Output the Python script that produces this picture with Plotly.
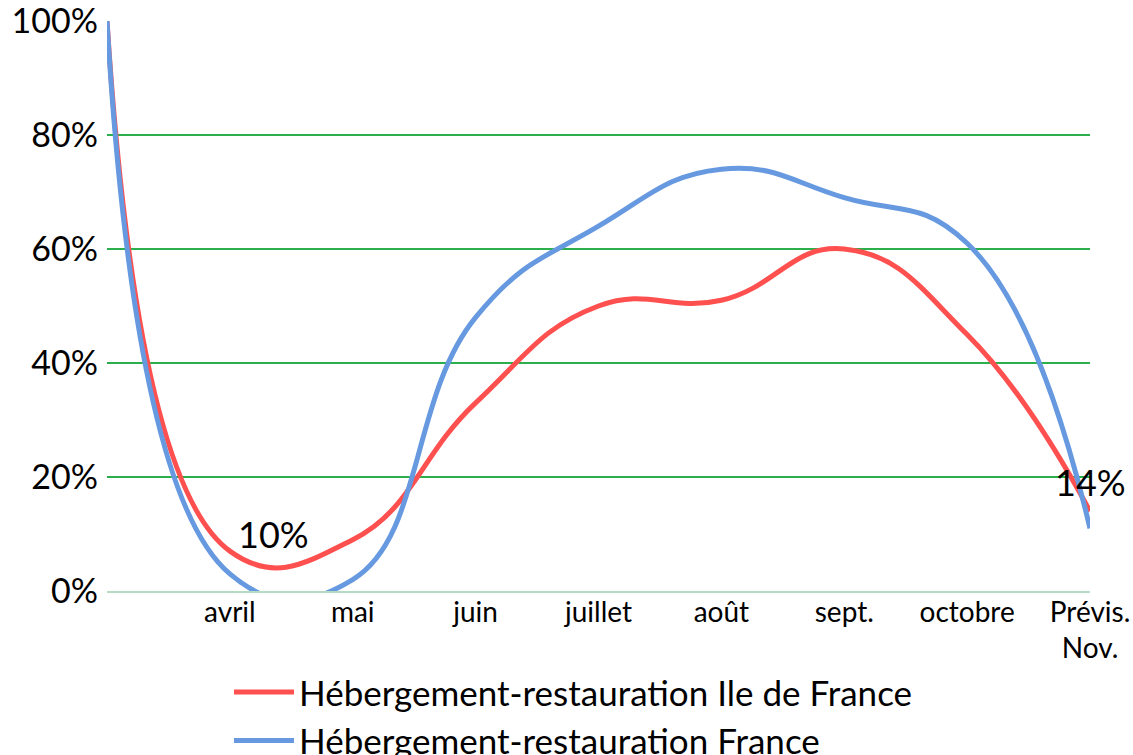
import plotly.graph_objects as go

categories = ["", "avril", "mai", "juin", "juillet", "août", "sept.", "octobre", "Prévis.<br>Nov."]
idf_values = [1.00, 0.07, 0.09, 0.33, 0.50, 0.51, 0.60, 0.45, 0.14]
fr_values = [1.00, 0.03, 0.02, 0.48, 0.64, 0.74, 0.69, 0.61, 0.11]
label_idx = [1, 8]
label_values = [0.10, 0.14]
label_texts = ["10%", "14%"]
y_ticks = [0, 0.2, 0.4, 0.6, 0.8, 1.0]
y_ticktext = ["0%", "20%", "40%", "60%", "80%", "100%"]

FONT = "Lato, 'Open Sans', sans-serif"
x_idx = list(range(len(categories)))

fig = go.Figure()
fig.add_trace(go.Scatter(
    x=x_idx, y=idf_values, mode="lines",
    name="Hébergement-restauration Ile de France",
    line=dict(color="#ff5050", width=5, shape="spline", smoothing=1.3),
))
fig.add_trace(go.Scatter(
    x=x_idx, y=fr_values, mode="lines",
    name="Hébergement-restauration France",
    line=dict(color="#6699e0", width=5, shape="spline", smoothing=1.3),
))

# data labels
fig.add_annotation(x=label_idx[0], y=label_values[0], text=label_texts[0],
                   showarrow=False, xanchor="left", yanchor="middle", xshift=6,
                   font=dict(family=FONT, size=36, color="#000000"))
fig.add_annotation(x=label_idx[1], y=label_values[1], text=label_texts[1],
                   showarrow=False, xanchor="center", yanchor="middle", yshift=29,
                   font=dict(family=FONT, size=36, color="#000000"))

fig.update_layout(
    width=1133, height=790,
    margin=dict(l=107, r=43, t=21, b=199),
    paper_bgcolor="white", plot_bgcolor="white",
    font=dict(family=FONT, color="#000000"),
    showlegend=True,
    legend=dict(
        orientation="v", x=0.1241, xanchor="left", y=-0.126, yanchor="top",
        font=dict(family=FONT, size=35, color="#000000"),
        tracegroupgap=0, itemwidth=60, bgcolor="rgba(0,0,0,0)",
    ),
    xaxis=dict(
        range=[0, len(categories) - 1],
        tickmode="array", tickvals=x_idx, ticktext=categories,
        showgrid=False, zeroline=False,
        showline=True, linecolor="#b5dcc2", linewidth=2,
        ticks="", ticklabelstandoff=-5, automargin=False,
        ticklabeloverflow="allow",
        tickfont=dict(family=FONT, size=28, color="#000000"),
    ),
    yaxis=dict(
        range=[0, 1.0],
        tickmode="array", tickvals=y_ticks, ticktext=y_ticktext,
        showgrid=True, gridcolor="#2aaf4a", gridwidth=2,
        zeroline=False, showline=False,
        ticks="", ticklabelstandoff=8, automargin=False,
        ticklabeloverflow="allow",
        tickfont=dict(family=FONT, size=34, color="#000000"),
    ),
)

fig.write_html(
    "out.html",
    config={"displayModeBar": False},
    post_script="document.body.style.margin='0';document.body.style.overflow='hidden';",
)
